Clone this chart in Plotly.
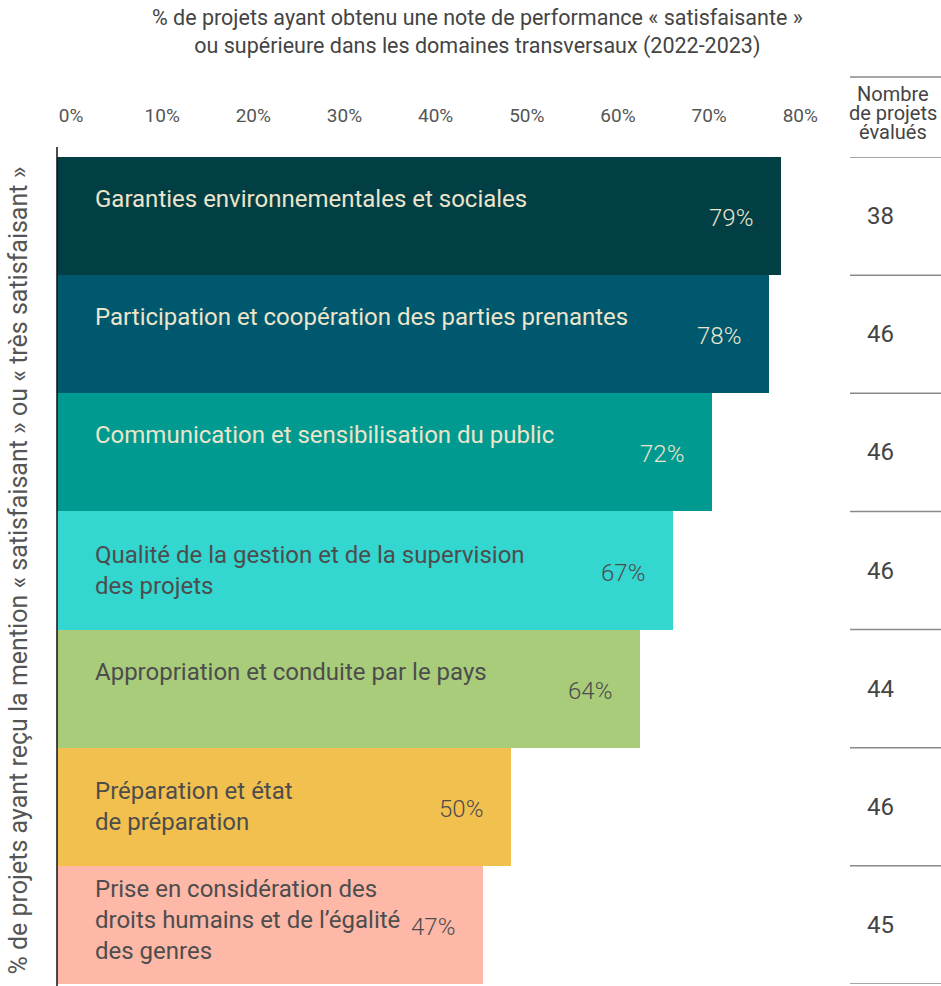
import plotly.graph_objects as go

categories = [
    "Garanties environnementales et sociales",
    "Participation et coopération des parties prenantes",
    "Communication et sensibilisation du public",
    "Qualité de la gestion et de la supervision<br>des projets",
    "Appropriation et conduite par le pays",
    "Préparation et état<br>de préparation",
    "Prise en considération des<br>droits humains et de l’égalité<br>des genres",
]
# bar lengths (%)
values = [79.4, 78.1, 71.9, 67.6, 63.9, 49.8, 46.7]
# value labels shown on the bars
value_labels = ["79%", "78%", "72%", "67%", "64%", "50%", "47%"]
counts = [38, 46, 46, 46, 44, 46, 45]
tick_vals = [0, 10, 20, 30, 40, 50, 60, 70, 80]
tick_text = ["0%", "10%", "20%", "30%", "40%", "50%", "60%", "70%", "80%"]

bar_colors = ["#023f45", "#00586e", "#019a91", "#34d6d0", "#a8cc7a", "#f2c04e", "#fdb8a8"]
text_colors = ["#ebe5cb", "#ebe5cb", "#ebe5cb", "#4d4d4d", "#4d4d4d", "#4d4d4d", "#4d4d4d"]

FONT = "Roboto"
ypos = list(range(len(categories)))

fig = go.Figure()
fig.add_trace(go.Bar(
    x=values, y=ypos, orientation="h",
    marker=dict(color=bar_colors, line=dict(width=0)),
    hoverinfo="skip",
))

annotations = []
for i, (cat, v, lab, n) in enumerate(zip(categories, values, value_labels, counts)):
    nlines = cat.count("<br>") + 1
    shift = {1: 17, 2: 0, 3: 5}[nlines]
    annotations.append(dict(
        x=0, y=i, xref="x", yref="y", text=cat, showarrow=False,
        xanchor="left", yanchor="middle", align="left", xshift=36, yshift=shift,
        font=dict(family=FONT, size=24, color=text_colors[i]),
    ))
    annotations.append(dict(
        x=v, y=i, xref="x", yref="y", text=lab, showarrow=False,
        xanchor="right", yanchor="middle", xshift=-26, yshift=-2,
        font=dict(family=FONT, size=24, color=text_colors[i], weight=300),
    ))
    annotations.append(dict(
        x=1.051, y=i, xref="paper", yref="y", text=str(n), showarrow=False,
        xanchor="center", yanchor="middle",
        font=dict(family=FONT, size=24, color="#444444"),
    ))

# title
annotations.append(dict(
    x=(477 - 57) / 784, y=1 + (157 - 32) / 827, xref="paper", yref="paper", showarrow=False,
    text="% de projets ayant obtenu une note de performance « satisfaisante »<br>ou supérieure dans les domaines transversaux (2022-2023)",
    xanchor="center", yanchor="middle", align="center",
    font=dict(family=FONT, size=21.5, color="#444444"),
))
# y axis title
annotations.append(dict(
    x=(18 - 57) / 784, y=0.5, xref="paper", yref="paper", showarrow=False, textangle=-90,
    text="% de projets ayant reçu la mention « satisfaisant » ou « très satisfaisant »",
    xanchor="center", yanchor="middle",
    font=dict(family=FONT, size=25, color="#555555"),
))
# table header
for txt, yy in [("Nombre", 94), ("de projets", 113), ("évalués", 132)]:
    annotations.append(dict(
        x=(893 - 57) / 784, y=1 + (157 - yy) / 827, xref="paper", yref="paper", showarrow=False,
        text=txt, xanchor="center", yanchor="middle",
        font=dict(family=FONT, size=20, color="#444444"),
    ))

shapes = []
# left axis line
shapes.append(dict(type="line", xref="paper", yref="paper", x0=0, x1=0,
                   y0=-0.003, y1=1 + 10 / 827, line=dict(color="#111111", width=1.5)))
# table lines
x0t, x1t = (850 - 57) / 784, (941 - 57) / 784
for b in [k - 0.5 for k in range(len(categories) + 1)]:
    shapes.append(dict(type="line", xref="paper", yref="y", x0=x0t, x1=x1t, y0=b, y1=b,
                       line=dict(color="#8a8a8a", width=1.5)))
shapes.append(dict(type="line", xref="paper", yref="paper", x0=x0t, x1=x1t,
                   y0=1 + 80 / 827, y1=1 + 80 / 827, line=dict(color="#8a8a8a", width=1.5)))

fig.update_layout(
    width=941, height=986,
    margin=dict(l=57, r=100, t=157, b=2),
    plot_bgcolor="white", paper_bgcolor="white",
    bargap=0, showlegend=False,
    annotations=annotations, shapes=shapes,
    xaxis=dict(range=[0, 86], side="top", tickvals=tick_vals, ticktext=tick_text,
               showgrid=False, zeroline=False, showline=False, ticks="",
               ticklabelstandoff=30, ticklabelshift=14,
               tickfont=dict(family=FONT, size=19, color="#555555")),
    yaxis=dict(range=[6.5, -0.5], showticklabels=False, showgrid=False,
               zeroline=False, showline=False, ticks=""),
)

fig.write_html("out.html", config={"displayModeBar": False},
               post_script="document.body.style.margin='0';")
